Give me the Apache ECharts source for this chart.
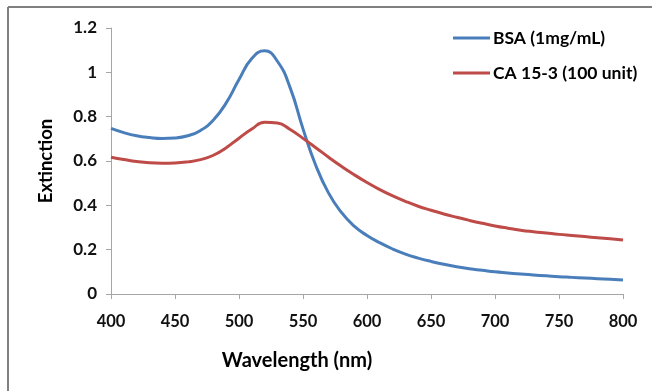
<!DOCTYPE html>
<html>
<head>
<meta charset="utf-8">
<script src="https://cdn.jsdelivr.net/npm/echarts@6/dist/echarts.min.js"></script>
<style>html,body{margin:0;padding:0;background:#fff}#c{width:652px;height:391px}</style>
</head>
<body>
<div id="c"></div>
<script>
const wavelengths = [400,410,420,430,440,450,460,470,480,490,500,510,520,530,540,550,560,570,580,590,600,610,620,630,640,650,660,670,680,690,700,710,720,730,740,750,760,770,780,790,800];
const bsa = [0.747,0.728,0.714,0.706,0.702,0.704,0.714,0.738,0.785,0.862,0.968,1.062,1.097,1.050,0.930,0.745,0.580,0.455,0.368,0.306,0.264,0.231,0.203,0.180,0.162,0.147,0.134,0.123,0.114,0.107,0.100,0.095,0.090,0.086,0.082,0.078,0.075,0.072,0.069,0.066,0.063];
const ca153 = [0.617,0.607,0.598,0.592,0.590,0.591,0.596,0.606,0.626,0.660,0.703,0.744,0.775,0.771,0.742,0.702,0.660,0.617,0.576,0.538,0.503,0.471,0.443,0.418,0.396,0.378,0.361,0.346,0.332,0.319,0.307,0.297,0.288,0.281,0.275,0.269,0.264,0.259,0.254,0.249,0.244];
const seriesNames = ['BSA (1mg/mL)', 'CA 15-3 (100 unit)'];
const xTicks = [400,450,500,550,600,650,700,750,800];
const yTicks = [0,0.2,0.4,0.6,0.8,1,1.2];

const font = 'Lato, "Open Sans", sans-serif';
const axisColor = '#a6a6a6';
const chart = echarts.init(document.getElementById('c'));
chart.setOption({
  animation: false,
  backgroundColor: '#fff',
  grid: {left: 111, right: 29, top: 28, bottom: 97},
  legend: {
    orient: 'vertical', left: 453, top: 28, padding: 0,
    icon: 'rect', itemWidth: 37, itemHeight: 3, itemGap: 15,
    textStyle: {fontFamily: font, fontWeight: 'bold', fontSize: 17.5, color: '#000', lineHeight: 20, padding: [0,0,0,-2]},
    data: seriesNames
  },
  xAxis: {
    type: 'value', min: xTicks[0], max: xTicks[xTicks.length-1], interval: 50,
    name: 'Wavelength (nm)', nameLocation: 'middle', nameGap: 57,
    nameTextStyle: {fontFamily: font, fontWeight: 'bold', fontSize: 20, color: '#000', padding: [0,140,0,0]},
    axisLine: {lineStyle: {color: axisColor, width: 1}},
    axisTick: {show: true, length: 5, lineStyle: {color: axisColor}},
    axisLabel: {margin: 19, fontFamily: font, fontWeight: 'bold', fontSize: 16.5, color: '#111'},
    splitLine: {show: false}
  },
  yAxis: {
    type: 'value', min: yTicks[0], max: yTicks[yTicks.length-1], interval: 0.2,
    name: 'Extinction', nameLocation: 'middle', nameGap: 55, nameRotate: 90,
    nameTextStyle: {fontFamily: font, fontWeight: 'bold', fontSize: 18.5, color: '#000'},
    axisLine: {show: true, lineStyle: {color: axisColor, width: 1}},
    axisTick: {show: true, length: 5, lineStyle: {color: axisColor}},
    axisLabel: {margin: 14, fontFamily: font, fontWeight: 'bold', fontSize: 17, color: '#111',
      formatter: v => String(Math.round(v*10)/10)},
    splitLine: {show: false}
  },
  series: [
    {name: seriesNames[0], type: 'line', smooth: 0.5, showSymbol: false, symbol: 'none',
     data: wavelengths.map((w,i)=>[w,bsa[i]]), lineStyle: {color: '#4a7ebb', width: 3}, itemStyle: {color: '#4a7ebb'}},
    {name: seriesNames[1], type: 'line', smooth: 0.5, showSymbol: false, symbol: 'none',
     data: wavelengths.map((w,i)=>[w,ca153[i]]), lineStyle: {color: '#be4b48', width: 3}, itemStyle: {color: '#be4b48'}}
  ],
  graphic: [
    {type: 'line', shape: {x1: 8, y1: 7, x2: 652, y2: 7}, style: {stroke: '#808080', lineWidth: 2}},
    {type: 'line', shape: {x1: 8, y1: 7, x2: 8, y2: 391}, style: {stroke: '#808080', lineWidth: 2}}
  ]
});
</script>
</body>
</html>
